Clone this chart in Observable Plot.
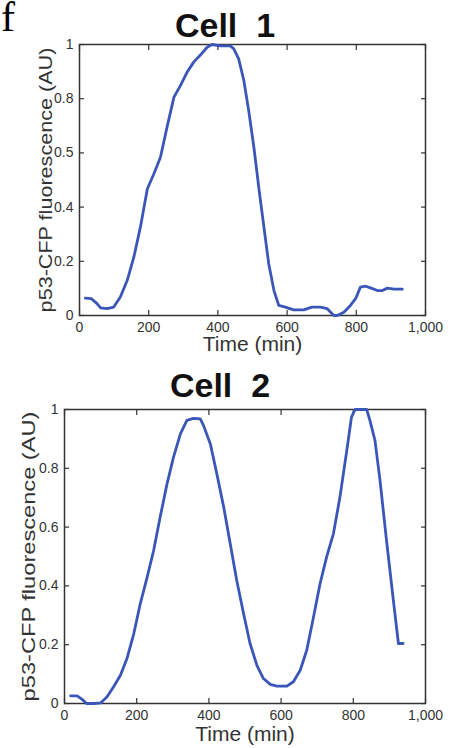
<!DOCTYPE html>
<html>
<head>
<meta charset="utf-8">
<script src="https://cdn.jsdelivr.net/npm/d3@7"></script>
<script src="https://cdn.jsdelivr.net/npm/@observablehq/plot@0.6"></script>
<style>
  html, body { margin: 0; padding: 0; background: #fff; }
  #wrap { position: relative; width: 451px; height: 748px; overflow: hidden; background: #fff; }
  .panel { position: absolute; left: 0; }
  .title { position: absolute; font-family: "Liberation Sans", Arial, sans-serif; font-weight: bold; font-size: 34px; color: #111; white-space: pre; line-height: 1; transform: translateX(-50%); }
  .letter { position: absolute; left: 1px; top: 1px; font-family: "Liberation Serif", "Times New Roman", serif; font-size: 42px; color: #000; line-height: 32px; }
</style>
</head>
<body>
<div id="wrap">
  <div class="letter">f</div>
</div>
<script>
// ---- data ----
const panelTitles = ["Cell  1", "Cell  2"];
const xLabel = "Time (min)";
const yLabel = "p53-CFP fluorescence (AU)";
const xTicks = [0, 200, 400, 600, 800, 1000];
const xTickLabels = ["0", "200", "400", "600", "800", "1,000"];
const yTicks = [0, 0.2, 0.4, 0.6, 0.8, 1];
const yTickLabels1 = ["0", "0.2", "0.4", "0.5", "0.8", "1"];
const yTickLabels2 = ["0", "0.2", "0.4", "0.6", "0.8", "1"];

const cell1Time = [17, 34, 50, 61, 80, 99, 118, 138, 157, 176, 196, 215, 234, 253, 273, 292, 311, 330, 350, 369, 383, 407, 436, 446, 460, 475, 489, 504, 518, 533, 547, 562, 576, 595, 619, 648, 672, 696, 716, 735, 745, 764, 783, 798, 812, 827, 841, 861, 875, 890, 909, 933];
const cell1Value = [0.064, 0.062, 0.045, 0.028, 0.025, 0.031, 0.068, 0.13, 0.215, 0.326, 0.467, 0.523, 0.584, 0.695, 0.806, 0.849, 0.898, 0.935, 0.962, 0.99, 1.0, 0.995, 0.995, 0.984, 0.947, 0.867, 0.756, 0.621, 0.474, 0.326, 0.19, 0.092, 0.037, 0.031, 0.021, 0.021, 0.031, 0.031, 0.025, 0.0, 0.0, 0.012, 0.037, 0.062, 0.105, 0.108, 0.102, 0.092, 0.092, 0.101, 0.097, 0.097];

const cell2Time = [17, 35, 49, 61, 81, 100, 118, 136, 155, 173, 192, 210, 229, 247, 265, 284, 302, 321, 339, 357, 376, 385, 404, 422, 441, 459, 477, 496, 514, 533, 551, 570, 588, 616, 634, 653, 671, 689, 708, 726, 745, 763, 782, 795, 805, 837, 846, 860, 874, 892, 911, 925, 938];
const cell2Value = [0.026, 0.026, 0.014, 0.0, 0.0, 0.002, 0.023, 0.057, 0.096, 0.153, 0.238, 0.34, 0.43, 0.521, 0.634, 0.747, 0.838, 0.917, 0.963, 0.97, 0.968, 0.946, 0.883, 0.781, 0.668, 0.544, 0.419, 0.306, 0.204, 0.13, 0.085, 0.065, 0.059, 0.059, 0.074, 0.113, 0.181, 0.289, 0.408, 0.498, 0.578, 0.702, 0.861, 0.974, 1.0, 1.0, 0.963, 0.895, 0.759, 0.555, 0.351, 0.204, 0.204];

// ---- drawing ----
const FONT = '"Liberation Sans", Arial, Helvetica, sans-serif';
const LINE = "#3a56b8";
const INK = "#333";
const wrap = document.getElementById("wrap");

function panel({time, value, yTickLabels, top, height, marginLeft, marginTop, marginBottom, yLabelDx, xLabelDy, yLabelLen}) {
  const data = time.map((t, i) => ({t, v: value[i]}));
  const plot = Plot.plot({
    width: 451,
    height,
    marginLeft,
    marginRight: 26,
    marginTop,
    marginBottom,
    style: {fontFamily: FONT, fontSize: "14px", color: INK, background: "transparent", overflow: "visible"},
    x: {domain: [0, 1000]},
    y: {domain: [0, 1]},
    marks: [
      Plot.axisX({anchor: "bottom", ticks: xTicks, tickSize: -5, tickPadding: 12, stroke: INK, strokeWidth: 1.2, fill: INK, fontSize: 14,
        tickFormat: d => xTickLabels[xTicks.indexOf(d)], label: null}),
      Plot.axisX({anchor: "top", ticks: xTicks, tickSize: -5, stroke: INK, strokeWidth: 1.2, text: null, label: null}),
      Plot.axisY({anchor: "left", ticks: yTicks, tickSize: -5, tickPadding: 11, stroke: INK, strokeWidth: 1.2, fill: INK, fontSize: 14,
        tickFormat: d => yTickLabels[yTicks.indexOf(d)], label: null}),
      Plot.axisY({anchor: "right", ticks: yTicks, tickSize: -5, stroke: INK, strokeWidth: 1.2, text: null, label: null}),
      Plot.frame({stroke: INK, strokeWidth: 1.5}),
      Plot.line(data, {x: "t", y: "v", stroke: LINE, strokeWidth: 2.8, strokeLinejoin: "round", strokeLinecap: "round"}),
      Plot.text([xLabel], {frameAnchor: "bottom", text: d => d, dy: xLabelDy, lineAnchor: "middle", textAnchor: "middle", fontSize: 21, fill: INK}),
      Plot.text([yLabel], {frameAnchor: "left", text: d => d, rotate: -90, dx: yLabelDx, lineAnchor: "middle", textAnchor: "middle", fontSize: 19, fill: INK})
    ]
  });
  plot.classList.add("panel");
  plot.style.top = top + "px";
  wrap.appendChild(plot);
  // stretch the rotated axis label along its length to match the figure
  plot.querySelectorAll("text").forEach(t => {
    if (t.textContent === yLabel) {
      const len = t.getComputedTextLength();
      const tr = t.getAttribute("transform") || "";
      t.setAttribute("transform", tr + ` scale(${(yLabelLen / len).toFixed(3)},1)`);
    }
  });
  return plot;
}

panel({
  time: cell1Time, value: cell1Value, yTickLabels: yTickLabels1,
  top: 0, height: 360, marginLeft: 79, marginTop: 44, marginBottom: 45,
  yLabelDx: -33.5, xLabelDy: 28.5, yLabelLen: 265
});
panel({
  time: cell2Time, value: cell2Value, yTickLabels: yTickLabels2,
  top: 370, height: 378, marginLeft: 64, marginTop: 39, marginBottom: 45,
  yLabelDx: -35.5, xLabelDy: 30.5, yLabelLen: 290
});

const t1 = document.createElement("div");
t1.className = "title"; t1.textContent = panelTitles[0];
t1.style.left = "225px"; t1.style.top = "8px";
wrap.appendChild(t1);
const t2 = document.createElement("div");
t2.className = "title"; t2.textContent = panelTitles[1];
t2.style.left = "220px"; t2.style.top = "368px";
wrap.appendChild(t2);
</script>
</body>
</html>
